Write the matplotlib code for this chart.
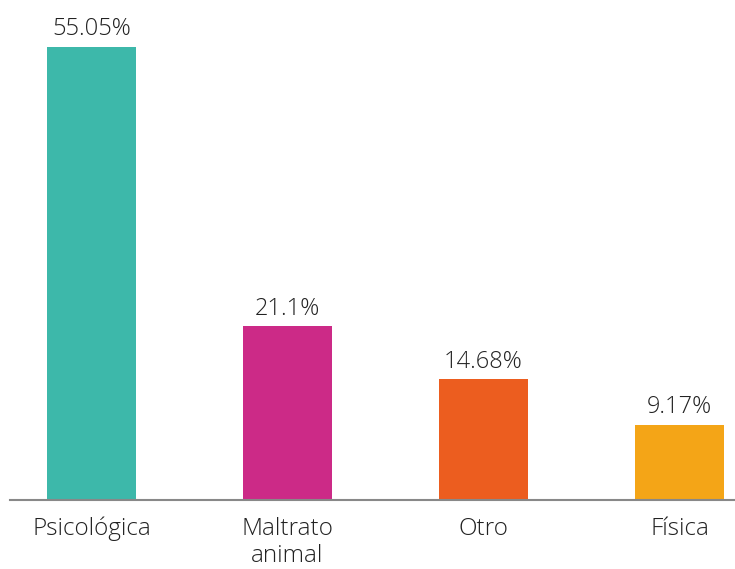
import matplotlib
matplotlib.use("Agg")
import matplotlib.pyplot as plt

categories = ["Psicológica", "Maltrato\nanimal", "Otro", "Física"]
values = [55.05, 21.1, 14.68, 9.17]
value_labels = ["55.05%", "21.1%", "14.68%", "9.17%"]
colors = ["#3db8aa", "#cc2a87", "#ec5d1f", "#f4a517"]

W, H = 735, 569
fig = plt.figure(figsize=(W / 100, H / 100), dpi=100)
ax = fig.add_axes([10 / W, (H - 500) / H, 725 / W, 500 / H])

x = list(range(len(categories)))
ax.bar(x, values, width=0.454, color=colors, zorder=2)

font = dict(family=["Open Sans", "DejaVu Sans"], fontweight="light", color="#222222")
for xi, v, lab in zip(x, values, value_labels):
    ax.annotate(lab, (xi, v), xytext=(0, 4), textcoords="offset points",
                ha="center", va="bottom", fontsize=17, **font)

ax.set_xlim(-0.416, 3.283)
ax.set_ylim(0, 60.76)
ax.set_xticks(x)
ax.set_xticklabels(categories, fontsize=17.5, linespacing=1.2, **font)
ax.tick_params(axis="x", length=0, pad=12)
ax.set_yticks([])
for s in ["top", "right", "left"]:
    ax.spines[s].set_visible(False)
ax.spines["bottom"].set_color("#888888")
ax.spines["bottom"].set_linewidth(1.5)
ax.spines["bottom"].set_zorder(3)

fig.savefig("out.png", dpi=100)
